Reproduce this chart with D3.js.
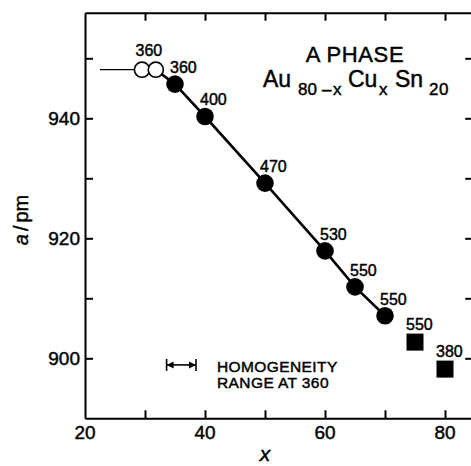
<!DOCTYPE html>
<html>
<head>
<meta charset="utf-8">
<script src="https://cdn.jsdelivr.net/npm/d3@7/dist/d3.min.js"></script>
<style>
  html, body { margin: 0; padding: 0; background: #fff; }
  svg { display: block; font-family: "Liberation Sans", Arial, sans-serif; }
  svg text { fill: #000; stroke: #000; stroke-width: 0.45px; paint-order: stroke; }
</style>
</head>
<body>
<svg id="chart" width="471" height="466"></svg>
<script>
// Lattice parameter a of the A phase in Au(80-x)Cu(x)Sn(20)
// Filled circles: single-phase samples, joined by the line
const filledX = [35, 40, 50, 60, 65, 70];
const filledA = [945.7, 940.3, 929.2, 917.9, 911.9, 907.1];
const filledT = ["360", "400", "470", "530", "550", "550"];

// Open circles: samples at the gold-rich limit
const openX = [29.5, 31.8];
const openA = [948.1, 948.1];
const openT = "360";

// Squares: two-phase samples
const squareX = [75, 80];
const squareA = [902.7, 898.2];
const squareT = ["550", "380"];

// Homogeneity range at 360
const rangeX = [33.6, 38.5];
const rangeA = 898.9;
const leftLimitX = 22.5;

// Axes
const xDomain = [20, 84.7];
const yDomain = [890, 957.6];
const xTicks = [30, 40, 50, 60, 70, 80];
const xTickLabels = [20, 40, 60, 80];
const yTicks = [900, 910, 920, 930, 940, 950];
const yTickLabels = [900, 920, 940];

const margin = { left: 85, top: 12.7 };
const W = 388.2, H = 405.6;

const svg = d3.select("#chart");
const g = svg.append("g").attr("transform", `translate(${margin.left},${margin.top})`);

const x = d3.scaleLinear().domain(xDomain).range([0, W]);
const y = d3.scaleLinear().domain(yDomain).range([H, 0]);

const axisStroke = 2;
const tickLen = 8;

function styleAxis(sel) {
  sel.select(".domain").attr("stroke", "#000").attr("stroke-width", axisStroke);
  sel.selectAll(".tick line").attr("stroke", "#000").attr("stroke-width", axisStroke);
  sel.selectAll(".tick text").remove();
}

// Frame with inward ticks on all four sides
g.append("g").attr("transform", `translate(0,${H})`)
  .call(d3.axisBottom(x).tickValues(xTicks).tickSizeInner(-tickLen).tickSizeOuter(0))
  .call(styleAxis);
g.append("g")
  .call(d3.axisTop(x).tickValues(xTicks).tickSizeInner(-tickLen).tickSizeOuter(0))
  .call(styleAxis);
g.append("g")
  .call(d3.axisLeft(y).tickValues(yTicks).tickSizeInner(-tickLen).tickSizeOuter(0))
  .call(styleAxis);
g.append("g").attr("transform", `translate(${W},0)`)
  .call(d3.axisRight(y).tickValues(yTicks).tickSizeInner(-tickLen).tickSizeOuter(0))
  .call(styleAxis);

// Tick labels
g.selectAll(".xl").data(xTickLabels).join("text")
  .attr("x", d => x(d)).attr("y", H + 21)
  .attr("text-anchor", "middle").attr("font-size", 19)
  .text(d => d);
g.selectAll(".yl").data(yTickLabels).join("text")
  .attr("x", -5).attr("y", d => y(d)).attr("dy", "0.36em")
  .attr("text-anchor", "end").attr("font-size", 19)
  .text(d => d);

// Axis titles
svg.append("text")
  .attr("x", margin.left + x(50)).attr("y", 461)
  .attr("text-anchor", "middle").attr("font-size", 21).attr("font-style", "italic")
  .text("x");
const yl = svg.append("text")
  .attr("transform", "translate(28,220) rotate(-90)")
  .attr("text-anchor", "middle").attr("font-size", 20);
yl.append("tspan").attr("font-style", "italic").text("a");
yl.append("tspan").attr("dx", 3).text("/");
yl.append("tspan").attr("dx", 3).text("pm");

// Line to the gold-rich limit
g.append("line")
  .attr("x1", x(leftLimitX)).attr("x2", x(openX[0]))
  .attr("y1", y(openA[0])).attr("y2", y(openA[0]))
  .attr("stroke", "#000").attr("stroke-width", 1.2);

// Line through the single-phase points
const linePts = [[openX[1], openA[1]]].concat(filledX.map((v, i) => [v, filledA[i]]));
g.append("path")
  .attr("d", d3.line().x(d => x(d[0])).y(d => y(d[1]))(linePts))
  .attr("fill", "none").attr("stroke", "#000").attr("stroke-width", 2.6);

// Open circles
g.selectAll(".open").data(openX).join("circle")
  .attr("cx", d => x(d)).attr("cy", (d, i) => y(openA[i])).attr("r", 7.6)
  .attr("fill", "#fff").attr("stroke", "#000").attr("stroke-width", 1.6);
g.append("text")
  .attr("x", (x(openX[0]) + x(openX[1])) / 2).attr("y", y(openA[0]) - 13.5)
  .attr("text-anchor", "middle").attr("font-size", 16)
  .text(openT);

// Filled circles with temperature labels
g.selectAll(".filled").data(filledX).join("circle")
  .attr("cx", d => x(d)).attr("cy", (d, i) => y(filledA[i])).attr("r", 8.8)
  .attr("fill", "#000");
g.selectAll(".flab").data(filledX).join("text")
  .attr("x", d => x(d) - 5).attr("y", (d, i) => y(filledA[i]) - 11)
  .attr("font-size", 16)
  .text((d, i) => filledT[i]);

// Squares with temperature labels
const sq = 17;
g.selectAll(".sq").data(squareX).join("rect")
  .attr("x", d => x(d) - sq / 2).attr("y", (d, i) => y(squareA[i]) - sq / 2)
  .attr("width", sq).attr("height", sq).attr("fill", "#000");
g.selectAll(".slab").data(squareX).join("text")
  .attr("x", d => x(d) - 9).attr("y", (d, i) => y(squareA[i]) - 12)
  .attr("font-size", 16)
  .text((d, i) => squareT[i]);

// Homogeneity range marker
const ry = y(rangeA);
const rg = g.append("g").attr("stroke", "#000").attr("stroke-width", 1.6);
rg.append("line").attr("x1", x(rangeX[0])).attr("x2", x(rangeX[1])).attr("y1", ry).attr("y2", ry);
[0, 1].forEach(i => {
  rg.append("line").attr("x1", x(rangeX[i])).attr("x2", x(rangeX[i]))
    .attr("y1", ry - 6).attr("y2", ry + 6);
});
const ah = 7, aw = 3.5;
g.append("path")
  .attr("d", `M${x(rangeX[0])},${ry}l${ah},${-aw}v${2 * aw}Z M${x(rangeX[1])},${ry}l${-ah},${-aw}v${2 * aw}Z`)
  .attr("fill", "#000");
const note = g.append("text").attr("font-size", 15.5).attr("letter-spacing", 0.4);
note.append("tspan").attr("x", x(42)).attr("y", ry + 7).text("HOMOGENEITY");
note.append("tspan").attr("x", x(42)).attr("y", ry + 23).text("RANGE AT 360");

// Title with composition Au(80-x) Cu(x) Sn(20)
svg.append("text")
  .attr("x", 355).attr("y", 62)
  .attr("text-anchor", "middle").attr("font-size", 22).attr("letter-spacing", 0.6)
  .text("A PHASE");
const comp = svg.append("text").attr("y", 87).attr("font-size", 23);
const compParts = [
  { t: "Au", x: 263, sub: false },
  { t: "80", x: 298, sub: true },
  { t: "\u2013", x: 322, sub: true },
  { t: "x", x: 333, sub: true },
  { t: "Cu", x: 348, sub: false },
  { t: "x", x: 379, sub: true },
  { t: "Sn", x: 395, sub: false },
  { t: "20", x: 429, sub: true }
];
compParts.forEach(p => {
  comp.append("tspan")
    .attr("x", p.x).attr("y", p.sub ? 95 : 87)
    .attr("font-size", p.sub ? 17 : 23)
    .attr("letter-spacing", p.t === "20" ? 0.5 : 0)
    .text(p.t);
});
</script>
</body>
</html>
